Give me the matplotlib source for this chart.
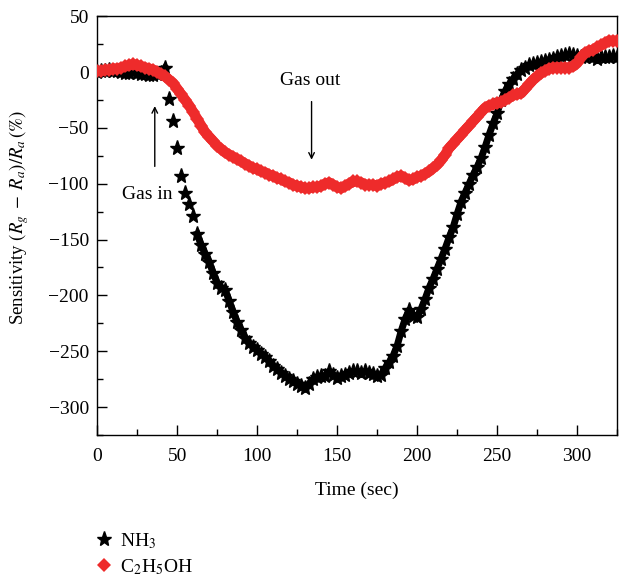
import numpy as np
import matplotlib
matplotlib.use("Agg")
import matplotlib.pyplot as plt

plt.rcParams["font.family"] = ["Liberation Serif", "DejaVu Serif"]
plt.rcParams["mathtext.fontset"] = "stix"

# sample times (sec), one reading every 2.5 s
time = np.arange(0, 325.1, 2.5)

# NH3 response (%), 4 readings per 10 s
nh3 = [
    0, 1, 1, 2,
    1, 1, 0, -1,
    -1, 0, -1, -2,
    -2, -3, -3, -2,
    -1, 4, -24, -44,
    -68, -93, -108, -118,
    -129, -145, -155, -163,
    -170, -180, -189, -193,
    -195, -205, -215, -224,
    -231, -238, -243, -246,
    -249, -252, -255, -259,
    -263, -266, -269, -272,
    -275, -277, -279, -281,
    -283, -279, -275, -273,
    -272, -272, -268, -271,
    -274, -272, -271, -269,
    -268, -268, -269, -268,
    -269, -270, -272, -271,
    -265, -260, -254, -245,
    -232, -221, -213, -218,
    -219, -212, -203, -193,
    -185, -176, -167, -158,
    -148, -139, -127, -116,
    -108, -100, -92, -85,
    -77, -67, -56, -46,
    -37, -25, -17, -11,
    -6, -2, 2, 4,
    6, 7, 8, 9,
    10, 11, 12, 13,
    14, 15, 16, 15,
    14, 13, 13, 14,
    13, 12, 13, 13,
    13, 14, 13,
]

# C2H5OH response (%)
etoh = [
    1, 1, 2, 2,
    3, 3, 4, 5,
    6, 7, 6, 5,
    4, 3, 2, 0,
    -2, -4, -7, -10,
    -15, -20, -25, -30,
    -36, -42, -48, -54,
    -58, -62, -66, -69,
    -72, -74, -76, -78,
    -80, -82, -84, -86,
    -87, -89, -90, -92,
    -93, -95, -96, -98,
    -99, -101, -102, -103,
    -104, -104, -103, -103,
    -102, -100, -99, -101,
    -103, -104, -102, -100,
    -98, -98, -99, -101,
    -101, -101, -102, -100,
    -99, -98, -96, -94,
    -93, -95, -97, -96,
    -94, -93, -91, -89,
    -86, -83, -79, -74,
    -68, -64, -60, -56,
    -52, -48, -44, -40,
    -36, -32, -30, -29,
    -28, -27, -25, -23,
    -21, -20, -19, -15,
    -11, -7, -4, -1,
    1, 3, 4, 4,
    4, 4, 4, 5,
    8, 13, 17, 19,
    20, 22, 24, 26,
    28, 28, 28,
]

RED = "#ee2b2b"
FS = 14

nh3 = np.array(nh3)
etoh = np.array(etoh)

fig = plt.figure(figsize=(6.19, 5.77), dpi=100)
ax = fig.add_axes([0.157, 0.246, 0.84, 0.726])

# NH3: dense star chain; the fast drop right after gas in shows single stars
early = time <= 42.5
late = time >= 62.5
ax.plot(time[early], nh3[early], "-", color="black", lw=5, zorder=2)
ax.plot(time[late], nh3[late], "-", color="black", lw=5, zorder=2)
ax.plot(time, nh3, linestyle="none", marker="*", markersize=11,
        color="black", zorder=2, label="NH$_3$")

# C2H5OH: thick red band of diamonds
ax.plot(time, etoh, "-", color=RED, lw=7.5, zorder=3,
        solid_capstyle="round")
ax.plot(time, etoh, linestyle="none", marker="D", markersize=7,
        color=RED, markeredgewidth=0, zorder=3, label="C$_2$H$_5$OH")

ax.set_xlim(0, 325)
ax.set_ylim(-325, 50)
ax.set_xticks(np.arange(0, 301, 50))
ax.set_xticks(np.arange(25, 326, 50), minor=True)
ax.set_yticks(np.arange(-300, 51, 50))
ax.set_yticks(np.arange(-325, 51, 25), minor=True)
ax.set_yticklabels(["\u2212300", "\u2212250", "\u2212200", "\u2212150",
                    "\u2212100", "\u221250", "0", "50"])
ax.tick_params(which="both", direction="in", top=False, right=False,
               labelsize=FS)
ax.tick_params(which="major", length=7, width=1, pad=6)
ax.tick_params(axis="x", which="major", pad=9)
ax.tick_params(which="minor", length=4, width=1)
for sp in ax.spines.values():
    sp.set_linewidth(1)

ax.set_xlabel("Time (sec)", fontsize=FS, labelpad=12)
ax.set_ylabel(r"Sensitivity $(R_g\;-\;R_a)/R_a\,(\%)$", fontsize=13.5)
ax.yaxis.set_label_coords(-0.128, 0.52)

# gas in / gas out markers
ax.annotate("", xy=(36, -28), xytext=(36, -87),
            arrowprops=dict(arrowstyle="->", lw=1, color="black"))
ax.text(31, -110, "Gas in", ha="center", va="center", fontsize=FS)
ax.annotate("", xy=(134, -81), xytext=(134, -24),
            arrowprops=dict(arrowstyle="->", lw=1, color="black"))
ax.text(133, -8, "Gas out", ha="center", va="center", fontsize=FS)

fig.legend(loc="center left", bbox_to_anchor=(0.152, 0.04),
           frameon=False, fontsize=FS, handlelength=1.0,
           handletextpad=0.35, labelspacing=0.3, borderpad=0,
           borderaxespad=0)

fig.savefig("out.png", dpi=100)
